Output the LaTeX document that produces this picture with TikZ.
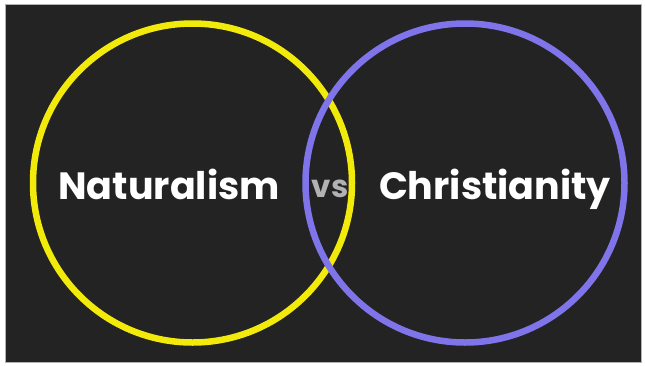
\documentclass[tikz,border=0pt]{standalone}
\usepackage{fontspec}
\setmainfont{Poppins}
\definecolor{board}{HTML}{232323}
\definecolor{chalkyellow}{HTML}{F2EA0A}
\definecolor{chalkblue}{HTML}{7F74EA}

\begin{document}
\begin{tikzpicture}[x=1pt,y=-1pt,
    ring/.style={circle,line width=6.5pt,minimum size=319pt,inner sep=0pt},
    word/.style={text=white,anchor=base,font=\bfseries\fontsize{38}{38}\selectfont}]
    \useasboundingbox (0,0) rectangle (645,365);
    \fill[board,draw=gray!60,line width=0.8pt] (5,4) rectangle (641,362);
    \node[ring,draw=chalkyellow] (natural) at (192.5,183) {};
    \node[ring,draw=chalkblue] (christian) at (465,183) {};
    \node[word] (naturalism) at (169,199) {Naturalism};
    \node[word] (christianity) at (495,199) {Christianity};
    \node[text=gray!60,anchor=base,font=\bfseries\fontsize{31}{31}\selectfont] (versus) at (330,197) {vs};
  \end{tikzpicture}
\end{document}
